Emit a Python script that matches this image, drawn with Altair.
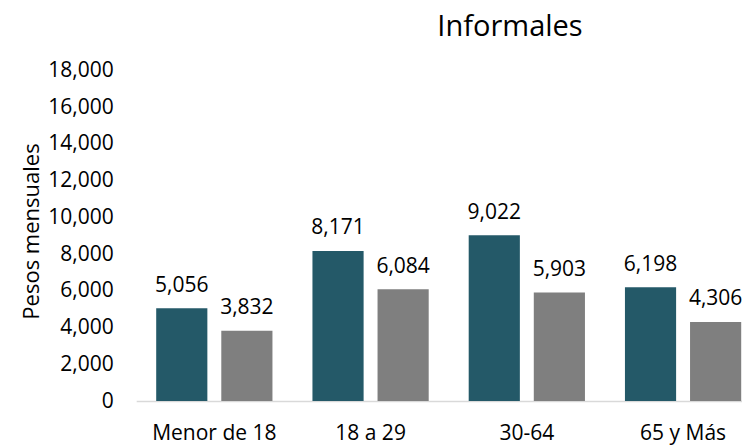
import altair as alt
import pandas as pd

categories = ["Menor de 18", "18 a 29", "30-64", "65 y Más"]
series_names = ["Serie 1", "Serie 2"]
values_serie1 = [5056, 8171, 9022, 6198]
values_serie2 = [3832, 6084, 5903, 4306]
y_ticks = [0, 2000, 4000, 6000, 8000, 10000, 12000, 14000, 16000, 18000]
chart_title = "Informales"

rows = []
for c, v1, v2 in zip(categories, values_serie1, values_serie2):
    rows.append({"grupo": c, "serie": series_names[0], "valor": v1})
    rows.append({"grupo": c, "serie": series_names[1], "valor": v2})
df = pd.DataFrame(rows)

FONT = "Open Sans"

x_enc = alt.X(
    "grupo:N",
    sort=categories,
    scale=alt.Scale(paddingInner=0.256, paddingOuter=0.128, range=[0, 625]),
    axis=alt.Axis(
        title=None,
        labelAngle=0,
        labelFontSize=21,
        labelFont=FONT,
        labelColor="#000000",
        labelPadding=21.7,
        ticks=False,
        tickSize=0,
        domainColor="#D9D9D9",
        domainWidth=1.5,
        grid=False,
    ),
)
xo_enc = alt.XOffset(
    "serie:N",
    sort=series_names,
    scale=alt.Scale(paddingInner=0.214, paddingOuter=0),
)
y_enc = alt.Y(
    "valor:Q",
    scale=alt.Scale(domain=[0, 18000], nice=False),
    axis=alt.Axis(
        title="Pesos mensuales",
        values=y_ticks,
        format=",d",
        labelFontSize=21,
        labelFont=FONT,
        labelColor="#000000",
        labelPadding=22.9,
        ticks=False,
        tickSize=0,
        domain=False,
        grid=False,
        titleFontSize=22,
        titleFont=FONT,
        titleFontWeight="normal",
        titleColor="#000000",
        titleAngle=-90,
        titleBaseline="alphabetic",
        titleAlign="center",
        titleX=-97.9,
        titleY=160.5,
    ),
)

color_enc = alt.Color(
    "serie:N",
    sort=series_names,
    scale=alt.Scale(domain=series_names, range=["#245968", "#7F7F7F"]),
    legend=None,
)

base = alt.Chart(df).encode(x=x_enc, xOffset=xo_enc, y=y_enc)

bars = base.mark_bar().encode(color=color_enc)
labels = base.mark_text(
    baseline="alphabetic",
    dy=-16.6,
    fontSize=21,
    font=FONT,
    color="#000000",
).encode(text=alt.Text("valor:Q", format=",d"))

title_layer = (
    alt.Chart(pd.DataFrame({"t": [chart_title]}))
    .mark_text(
        baseline="alphabetic",
        align="center",
        fontSize=29,
        font=FONT,
        color="#000000",
    )
    .encode(text="t:N", x=alt.value(373.8), y=alt.value(-34.5))
)

chart = (
    alt.layer(bars, labels, title_layer)
    .properties(
        width=605.8,
        height=330.5,
        autosize=alt.AutoSizeParams(type="none"),
        padding={"left": 128.2, "top": 62.5, "right": 0, "bottom": 44},
    )
    .configure_view(stroke=None)
)

chart.save("out.html", embed_options={"renderer": "svg", "actions": False})
